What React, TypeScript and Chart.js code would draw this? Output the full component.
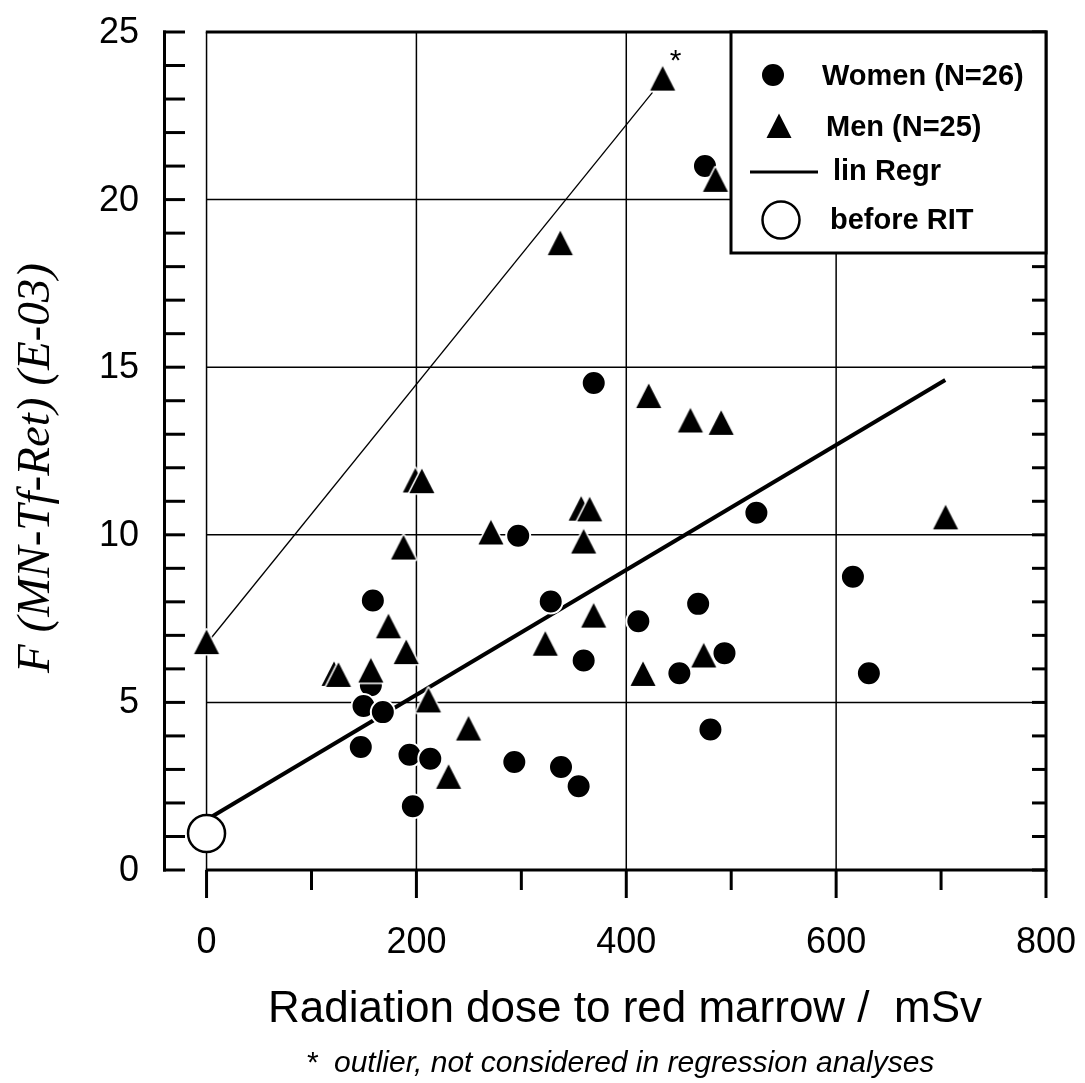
import React, { useEffect, useRef } from "react";
import { Chart, registerables } from "chart.js";

Chart.register(...registerables);

// ---- data ----
const womenDose = [475, 369, 524, 297, 616, 158.5, 328, 468.5, 411.5, 359.4, 493.6, 450.6, 631.2, 480.2, 156.6, 149.6, 168, 147, 193.4, 213.2, 196.6, 293.3, 337.8, 354.6];
const womenF = [21.0, 14.53, 10.66, 9.97, 8.75, 8.04, 8.01, 7.94, 7.42, 6.25, 6.47, 5.87, 5.87, 4.19, 5.51, 4.89, 4.71, 3.67, 3.44, 3.32, 1.9, 3.22, 3.07, 2.5];

// first three are mostly hidden behind the following ones
const menDose = [121.5, 199, 357, 434.7, 485, 337.1, 421.4, 461.1, 490.4, 205.2, 365.1, 704.3, 271, 187.7, 359.4, 173.4, 368.9, 0, 322.8, 190.3, 473.8, 156.6, 125.7, 416, 211.5, 249.7, 230.7];
const menF = [5.85, 11.62, 10.78, 23.61, 20.59, 18.7, 14.14, 13.41, 13.34, 11.6, 10.76, 10.52, 10.07, 9.62, 9.8, 7.27, 7.59, 6.8, 6.75, 6.5, 6.4, 5.95, 5.82, 5.85, 5.06, 4.22, 2.78];
const outlierIndex = 3;

const regrDose = [0, 704];
const regrF = [1.5, 14.62];

const outlierLineDose = [0, 425];
const outlierLineF = [6.75, 23.2];

const beforeDose = [0];
const beforeF = [1.09];

const xMajorTicks = [0, 200, 400, 600, 800];
const xMinorTicks = [100, 300, 500, 700];
const xGrid = [0, 200, 400, 600];
const yMajorTicks = [0, 5, 10, 15, 20, 25];
const yGrid = [5, 10, 15, 20];

const legendLabels = ["Women (N=26)", "Men (N=25)", "lin Regr", "before RIT"];
const xTitle = "Radiation dose to red marrow /  mSv";
const yTitle = "F (MN-Tf-Ret) (E-03)";
const footnote = "*  outlier, not considered in regression analyses";

const SANS = "'Liberation Sans', Arial, sans-serif";
const SERIF = "'Liberation Serif', 'Times New Roman', serif";

function toPoints(xs: number[], ys: number[]) {
  return xs.map((x, i) => ({ x, y: ys[i] }));
}

function makeTriangle(): HTMLCanvasElement {
  const c = document.createElement("canvas");
  c.width = 32;
  c.height = 32;
  const g = c.getContext("2d")!;
  g.beginPath();
  g.moveTo(16, 3.5);
  g.lineTo(28.5, 28);
  g.lineTo(3.5, 28);
  g.closePath();
  g.lineJoin = "round";
  g.lineWidth = 3;
  g.strokeStyle = "#fff";
  g.stroke();
  g.fillStyle = "#000";
  g.fill();
  return c;
}

export default function App() {
  const ref = useRef<HTMLCanvasElement>(null);

  useEffect(() => {
    document.body.style.margin = "0";
    const canvas = ref.current!;
    const tri = makeTriangle();

    const framePlugin = {
      id: "frame",
      beforeDraw(chart: any) {
        const { ctx } = chart;
        ctx.save();
        ctx.fillStyle = "#fff";
        ctx.fillRect(0, 0, chart.width, chart.height);
        ctx.restore();
      },
      beforeDatasetsDraw(chart: any) {
        const { ctx, chartArea } = chart;
        const x = chart.scales.x;
        const y = chart.scales.y;
        const X = (v: number) => x.getPixelForValue(v);
        const Y = (v: number) => y.getPixelForValue(v);
        ctx.save();
        ctx.strokeStyle = "#000";
        ctx.lineCap = "butt";
        // grid
        ctx.lineWidth = 1.5;
        for (const g of xGrid) {
          ctx.beginPath();
          ctx.moveTo(X(g), Y(25));
          ctx.lineTo(X(g), Y(0));
          ctx.stroke();
        }
        for (const g of yGrid) {
          ctx.beginPath();
          ctx.moveTo(X(0), Y(g));
          ctx.lineTo(X(800), Y(g));
          ctx.stroke();
        }
        // frame: top, right, bottom
        ctx.lineWidth = 3;
        ctx.beginPath();
        ctx.moveTo(X(0) - 0.75, Y(25));
        ctx.lineTo(X(800), Y(25));
        ctx.lineTo(X(800), Y(0));
        ctx.lineTo(X(0) - 0.75, Y(0));
        ctx.stroke();
        // x ticks
        for (const t of xMajorTicks) {
          ctx.beginPath();
          ctx.moveTo(X(t), Y(0));
          ctx.lineTo(X(t), Y(0) + 28);
          ctx.stroke();
        }
        for (const t of xMinorTicks) {
          ctx.beginPath();
          ctx.moveTo(X(t), Y(0));
          ctx.lineTo(X(t), Y(0) + 20);
          ctx.stroke();
        }
        // left (detached) y axis
        const ax = chartArea.left + 1.5;
        ctx.beginPath();
        ctx.moveTo(ax, Y(25) - 1.5);
        ctx.lineTo(ax, Y(0) + 1.5);
        ctx.stroke();
        for (let v = 0; v <= 25; v++) {
          ctx.beginPath();
          ctx.moveTo(chartArea.left, Y(v));
          ctx.lineTo(chartArea.left + 22, Y(v));
          ctx.stroke();
          // right-side inner ticks
          ctx.beginPath();
          ctx.moveTo(X(800), Y(v));
          ctx.lineTo(X(800) - 14, Y(v));
          ctx.stroke();
        }
        // tick labels
        ctx.fillStyle = "#000";
        ctx.font = `36px ${SANS}`;
        ctx.textAlign = "right";
        ctx.textBaseline = "middle";
        for (const t of yMajorTicks) {
          ctx.fillText(String(t), 139, Y(t) + 1);
        }
        ctx.textAlign = "center";
        for (const t of xMajorTicks) {
          ctx.fillText(String(t), X(t), 943);
        }
        // axis titles
        ctx.font = `44px ${SANS}`;
        ctx.fillText(xTitle, 625, 1010);
        ctx.font = `italic 30px ${SANS}`;
        ctx.fillText(footnote, 620, 1064);
        ctx.save();
        ctx.translate(37, 468);
        ctx.rotate(-Math.PI / 2);
        ctx.font = `italic 47px ${SERIF}`;
        ctx.fillText(yTitle, 0, 0);
        ctx.restore();
        ctx.restore();
      },
      afterDatasetsDraw(chart: any) {
        const { ctx } = chart;
        const x = chart.scales.x;
        const y = chart.scales.y;
        ctx.save();
        // asterisk next to the outlier
        ctx.fillStyle = "#000";
        ctx.font = `30px ${SANS}`;
        ctx.textAlign = "center";
        ctx.textBaseline = "middle";
        ctx.fillText(
          "*",
          x.getPixelForValue(menDose[outlierIndex]) + 13,
          y.getPixelForValue(menF[outlierIndex]) - 17
        );
        // legend box
        const L = 731, T = 32, R = x.getPixelForValue(800), B = 253;
        ctx.fillStyle = "#fff";
        ctx.fillRect(L, T, R - L, B - T);
        ctx.lineWidth = 3;
        ctx.strokeStyle = "#000";
        ctx.strokeRect(L, T, R - L, B - T);
        // entries
        ctx.fillStyle = "#000";
        ctx.beginPath();
        ctx.arc(773, 75, 11, 0, Math.PI * 2);
        ctx.fill();
        ctx.drawImage(tri, 779 - 16, 126 - 16);
        ctx.lineWidth = 3;
        ctx.beginPath();
        ctx.moveTo(750, 172);
        ctx.lineTo(818, 172);
        ctx.stroke();
        ctx.lineWidth = 2.5;
        ctx.fillStyle = "#fff";
        ctx.beginPath();
        ctx.arc(781, 220, 18.5, 0, Math.PI * 2);
        ctx.fill();
        ctx.stroke();
        ctx.fillStyle = "#000";
        ctx.font = `bold 29px ${SANS}`;
        ctx.textAlign = "left";
        ctx.textBaseline = "middle";
        ctx.fillText(legendLabels[0], 822, 77);
        ctx.fillText(legendLabels[1], 826, 128);
        ctx.fillText(legendLabels[2], 833, 172);
        ctx.fillText(legendLabels[3], 830, 221);
        ctx.restore();
      },
    };

    const chart = new Chart(canvas, {
      type: "scatter",
      data: {
        datasets: [
          {
            label: legendLabels[3],
            data: toPoints(beforeDose, beforeF),
            pointStyle: "circle",
            pointRadius: 18.5,
            backgroundColor: "#fff",
            borderColor: "#000",
            borderWidth: 2.5,
            clip: false,
          },
          {
            label: legendLabels[1],
            data: toPoints(menDose, menF),
            pointStyle: tri,
            pointRadius: 14,
            clip: false,
          },
          {
            label: legendLabels[0],
            data: toPoints(womenDose, womenF),
            pointStyle: "circle",
            pointRadius: 12,
            backgroundColor: "#000",
            borderColor: "#fff",
            borderWidth: 2,
            clip: false,
          },
          {
            label: "outlier line",
            data: toPoints(outlierLineDose, outlierLineF),
            showLine: true,
            borderColor: "#000",
            borderWidth: 1.3,
            pointRadius: 0,
            clip: false,
          },
          {
            label: legendLabels[2],
            data: toPoints(regrDose, regrF),
            showLine: true,
            borderColor: "#000",
            borderWidth: 4,
            pointRadius: 0,
            clip: false,
          },
        ],
      } as any,
      options: {
        responsive: false,
        animation: false,
        devicePixelRatio: 1,
        events: [],
        layout: { padding: { left: 163, right: 39, top: 32, bottom: 213 } },
        scales: {
          x: { type: "linear", min: -41.5, max: 800, display: false },
          y: { type: "linear", min: 0, max: 25, display: false },
        },
        plugins: {
          legend: { display: false },
          tooltip: { enabled: false },
        },
      } as any,
      plugins: [framePlugin],
    });
    return () => chart.destroy();
  }, []);

  return (
    <canvas
      ref={ref}
      width={1085}
      height={1083}
      style={{ display: "block", position: "absolute", left: 0, top: 0 }}
    />
  );
}
